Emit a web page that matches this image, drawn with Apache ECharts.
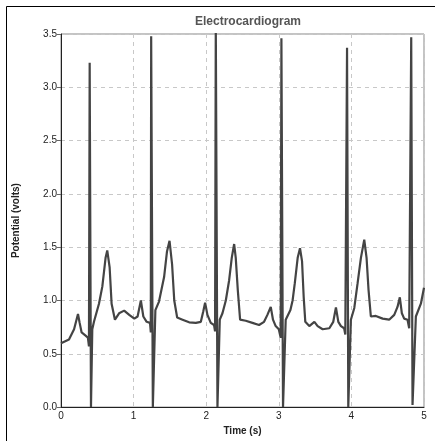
<!DOCTYPE html>
<html>
<head>
    <meta charset="utf-8">
    <title>Electrocardiogram</title>
    <style>
        html, body { margin: 0; padding: 0; background: #fff; }
        #main { width: 435px; height: 441px; }
    </style>
</head>
<body>
<div id="main"></div>
<script src="https://cdn.jsdelivr.net/npm/echarts@6/dist/echarts.min.js"></script>
<script type="text/javascript">
    // sample times (s)
    var timeValues = [
        0.00, 0.11, 0.18, 0.234, 0.257, 0.284, 0.339, 0.371, 0.385, 0.395, 0.413, 0.431, 0.454,
        0.523, 0.569, 0.614, 0.637, 0.67, 0.697, 0.743, 0.80, 0.87, 0.94, 1.01, 1.055, 1.10,
        1.134, 1.18, 1.226, 1.237, 1.242, 1.265, 1.30, 1.35, 1.42, 1.46, 1.495, 1.53, 1.56,
        1.60, 1.674, 1.765, 1.857, 1.926, 1.96, 1.985, 2.017, 2.063, 2.108, 2.122, 2.132,
        2.155, 2.187, 2.224, 2.27, 2.316, 2.352, 2.385, 2.407, 2.435, 2.467, 2.545, 2.637,
        2.728, 2.797, 2.843, 2.889, 2.92, 2.957, 3.00, 3.026, 3.036, 3.058, 3.095, 3.16, 3.19,
        3.22, 3.26, 3.292, 3.32, 3.343, 3.365, 3.42, 3.49, 3.535, 3.604, 3.696, 3.75, 3.787,
        3.82, 3.856, 3.90, 3.916, 3.94, 3.957, 3.993, 4.04, 4.085, 4.131, 4.177, 4.209, 4.236,
        4.268, 4.337, 4.43, 4.52, 4.59, 4.635, 4.667, 4.695, 4.727, 4.773, 4.796, 4.824,
        4.842, 4.888, 4.957, 5.00
    ];
    // potential (volts) at each sample time
    var potentialValues = [
        0.60, 0.635, 0.73, 0.874, 0.79, 0.70, 0.67, 0.65, 0.57, 3.23, 0.00, 0.73, 0.80,
        0.97, 1.13, 1.40, 1.47, 1.31, 0.97, 0.82, 0.88, 0.905, 0.865, 0.83, 0.85, 1.00,
        0.85, 0.80, 0.79, 0.70, 3.48, 0.00, 0.91, 0.99, 1.22, 1.46, 1.56, 1.34, 1.00,
        0.84, 0.82, 0.795, 0.79, 0.80, 0.90, 0.98, 0.865, 0.79, 0.77, 0.71, 3.60,
        0.00, 0.82, 0.88, 1.00, 1.19, 1.40, 1.53, 1.40, 1.10, 0.82, 0.81, 0.79,
        0.77, 0.80, 0.865, 0.94, 0.82, 0.76, 0.73, 0.65, 3.46, 0.00, 0.82, 0.91, 1.00,
        1.16, 1.40, 1.49, 1.37, 1.03, 0.80, 0.76, 0.80, 0.76, 0.73, 0.74, 0.80, 0.935,
        0.80, 0.76, 0.74, 0.68, 3.37, 0.00, 0.82, 0.93, 1.16, 1.40, 1.57, 1.40, 1.10,
        0.85, 0.855, 0.83, 0.82, 0.865, 0.94, 1.03, 0.88, 0.83, 0.82, 0.74, 3.47,
        0.02, 0.85, 0.97, 1.12
    ];
    var xTickLabels = ['0', '1', '2', '3', '4', '5'];

    var ecgData = [];
    for (var i = 0; i < timeValues.length; i++) {
        ecgData.push([timeValues[i], potentialValues[i]]);
    }

    var myChart = echarts.init(document.getElementById('main'));
    var option = {
        backgroundColor: '#fff',
        animation: false,
        title: {
            text: 'Electrocardiogram',
            left: 243,
            textAlign: 'center',
            top: 11,
            textStyle: {
                fontFamily: 'Liberation Sans',
                fontSize: 12,
                fontWeight: 'bold',
                color: '#555'
            }
        },
        graphic: [{
            type: 'rect',
            shape: { x: 6.5, y: 6.5, width: 440, height: 450 },
            style: { fill: null, stroke: '#000', lineWidth: 1 },
            silent: true
        }],
        grid: {
            left: 61,
            top: 34,
            right: 11,
            bottom: 26,
            show: true,
            borderColor: '#888',
            borderWidth: 1,
            backgroundColor: 'transparent'
        },
        xAxis: {
            type: 'value',
            min: 0,
            max: 5,
            interval: 1,
            name: 'Time (s)',
            nameLocation: 'middle',
            nameGap: 14,
            nameTextStyle: {
                fontFamily: 'Liberation Sans',
                fontSize: 10,
                fontWeight: 'bold',
                color: '#222'
            },
            axisLine: { lineStyle: { color: '#222' } },
            axisTick: { show: false },
            axisLabel: {
                margin: 4,
                fontFamily: 'Liberation Sans',
                fontSize: 10,
                color: '#222',
                formatter: function (v) { return xTickLabels[Math.round(v)]; }
            },
            splitLine: { lineStyle: { color: '#c8c8c8', type: [4, 4] } }
        },
        yAxis: {
            type: 'value',
            min: 0,
            max: 3.5,
            interval: 0.5,
            name: 'Potential (volts)',
            nameLocation: 'middle',
            nameGap: 40,
            nameTextStyle: {
                fontFamily: 'Liberation Sans',
                fontSize: 10,
                fontWeight: 'bold',
                color: '#222'
            },
            axisLine: { show: true, lineStyle: { color: '#222' } },
            axisTick: { show: true, length: 4, lineStyle: { color: '#666' } },
            axisLabel: {
                margin: 4,
                fontFamily: 'Liberation Sans',
                fontSize: 10,
                color: '#222',
                formatter: function (v) { return v.toFixed(1); }
            },
            splitLine: { lineStyle: { color: '#c8c8c8', type: [4, 4] } }
        },
        series: [{
            name: 'ECG',
            type: 'line',
            data: ecgData,
            showSymbol: false,
            clip: true,
            lineStyle: { color: '#444', width: 2.2 }
        }]
    };
    myChart.setOption(option);
</script>
</body>
</html>
